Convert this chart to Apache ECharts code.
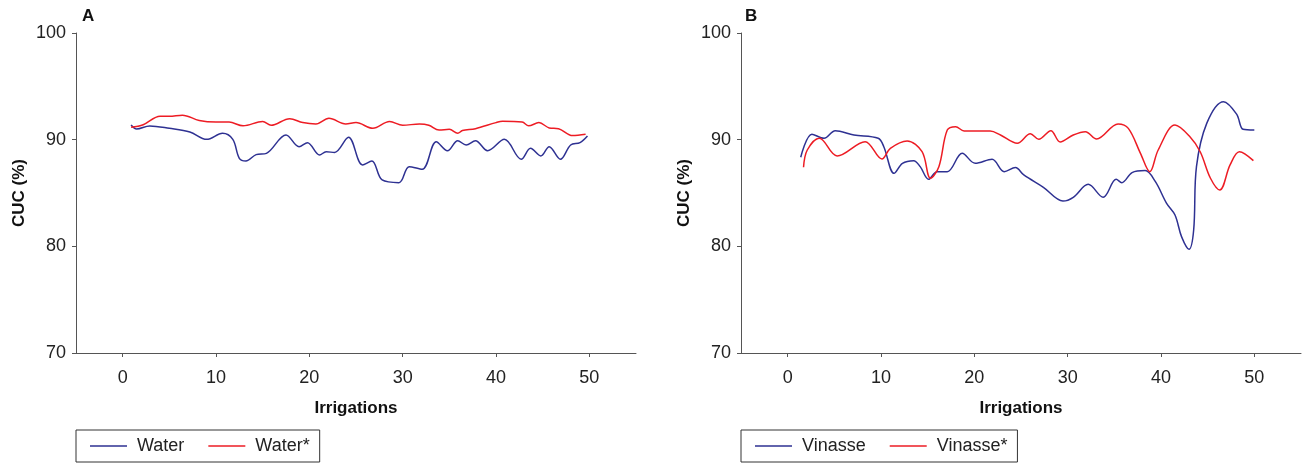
<!DOCTYPE html>
<html>
<head>
<meta charset="utf-8">
<script src="https://cdn.jsdelivr.net/npm/echarts@6/dist/echarts.min.js"></script>
<style>
html,body{margin:0;padding:0;background:#fff;}
#c{width:1304px;height:464px;}
</style>
</head>
<body>
<div id="c"></div>
<script>
// ---- data ----
var xTicks = [0, 10, 20, 30, 40, 50];
var yTicks = [70, 80, 90, 100];

var waterIrr = [0.9, 1.5, 2.9, 5.0, 7.2, 9.0, 10.7, 11.8, 12.5, 13.2, 14.3, 15.4, 17.5, 18.9, 19.8, 21.1, 21.8, 22.7, 24.2, 25.7, 26.7, 27.8, 29.6, 30.7, 32.1, 33.6, 34.8, 35.9, 36.8, 37.8, 39.1, 40.9, 42.7, 43.7, 44.8, 45.7, 46.9, 48.0, 49.0, 49.8];
var waterCUC = [91.37, 91.0, 91.28, 91.06, 90.72, 90.03, 90.6, 90.03, 88.25, 88.0, 88.6, 88.72, 90.44, 89.34, 89.72, 88.56, 88.87, 88.8, 90.22, 87.63, 88.0, 86.22, 85.97, 87.47, 87.22, 89.81, 88.97, 89.9, 89.5, 89.9, 88.97, 90.03, 88.16, 89.19, 88.47, 89.34, 88.16, 89.5, 89.72, 90.34];

var waterStarIrr = [0.9, 2.2, 4.0, 5.0, 6.4, 8.2, 10.0, 11.4, 12.9, 15.0, 15.9, 17.9, 19.3, 20.7, 22.1, 23.9, 25.0, 26.8, 28.6, 30.0, 31.8, 32.8, 33.9, 35.0, 35.9, 36.4, 37.8, 40.0, 40.7, 42.8, 43.5, 44.6, 45.7, 46.7, 48.2, 49.6];
var waterStarCUC = [91.16, 91.4, 92.2, 92.2, 92.3, 91.8, 91.65, 91.65, 91.3, 91.7, 91.35, 91.97, 91.6, 91.47, 92.0, 91.47, 91.6, 91.06, 91.7, 91.35, 91.47, 91.35, 90.9, 90.97, 90.6, 90.85, 91.03, 91.6, 91.72, 91.65, 91.3, 91.6, 91.1, 91.03, 90.38, 90.5];

var vinIrr = [1.4, 2.6, 3.9, 5.1, 7.1, 9.7, 10.3, 11.4, 12.3, 13.5, 14.2, 15.1, 16.0, 17.1, 18.7, 20.1, 21.9, 23.2, 24.4, 25.3, 27.4, 29.5, 30.6, 32.2, 33.8, 35.2, 35.8, 36.9, 38.3, 39.4, 40.6, 41.5, 42.2, 43.0, 43.5, 43.8, 44.9, 46.7, 48.1, 48.8, 50.0];
var vinCUC = [88.35, 90.5, 90.13, 90.84, 90.44, 90.13, 89.34, 86.84, 87.78, 88.03, 87.47, 86.28, 87.0, 87.0, 88.72, 87.78, 88.16, 87.0, 87.38, 86.69, 85.53, 84.25, 84.6, 85.81, 84.6, 86.28, 85.97, 86.91, 87.1, 86.06, 84.03, 82.94, 80.91, 79.72, 81.53, 87.47, 91.53, 93.56, 92.4, 90.97, 90.9];

var vinStarIrr = [1.7, 2.1, 3.4, 5.3, 8.3, 10.1, 11.0, 12.8, 14.4, 15.3, 16.2, 17.1, 18.0, 18.9, 21.7, 22.8, 24.6, 26.0, 26.9, 28.2, 29.2, 30.6, 31.9, 33.1, 35.4, 36.5, 37.8, 38.8, 39.7, 41.5, 43.1, 44.2, 45.3, 46.3, 47.4, 48.4, 49.9];
var vinStarCUC = [87.41, 89.03, 90.13, 88.47, 89.81, 88.19, 89.19, 89.88, 88.87, 86.38, 87.47, 90.9, 91.22, 90.81, 90.81, 90.44, 89.66, 90.55, 90.03, 90.84, 89.78, 90.44, 90.75, 90.06, 91.47, 91.06, 88.72, 87.0, 89.03, 91.37, 90.28, 88.87, 86.38, 85.28, 87.63, 88.87, 88.03];

var BLUE = '#2e3192';
var RED = '#ed1c24';
var FONT = "'Liberation Sans',Arial,sans-serif";
var AXIS = '#555';

function pairs(xs, ys) { return xs.map(function (x, i) { return [x, ys[i]]; }); }

function xAxisCfg(gi) {
  return {
    type: 'value', gridIndex: gi, min: -5, max: 55,
    name: 'Irrigations', nameLocation: 'middle', nameGap: 47,
    nameTextStyle: { fontFamily: FONT, fontWeight: 'bold', fontSize: 17, color: '#111' },
    axisLine: { show: true, onZero: false, lineStyle: { color: AXIS, width: 1 } },
    axisTick: { show: true, length: 4, lineStyle: { color: AXIS }, customValues: xTicks },
    axisLabel: { fontFamily: FONT, fontSize: 18, color: '#222', margin: 16, customValues: xTicks },
    splitLine: { show: false }
  };
}
function yAxisCfg(gi) {
  return {
    type: 'value', gridIndex: gi, min: 70, max: 100, interval: 10,
    name: 'CUC (%)', nameLocation: 'middle', nameGap: 48, nameRotate: 90,
    nameTextStyle: { fontFamily: FONT, fontWeight: 'bold', fontSize: 17, color: '#111' },
    axisLine: { show: true, onZero: false, lineStyle: { color: AXIS, width: 1 } },
    axisTick: { show: true, length: 4, lineStyle: { color: AXIS } },
    axisLabel: { fontFamily: FONT, fontSize: 18, color: '#222', margin: 10 },
    splitLine: { show: false }
  };
}
function lineSeries(name, gi, data, color) {
  return {
    name: name, type: 'line', xAxisIndex: gi, yAxisIndex: gi,
    data: data, smooth: 0.35, symbol: 'none',
    lineStyle: { color: color, width: 1.5 }, itemStyle: { color: color },
    animation: false
  };
}
function legendCfg(left, names) {
  return {
    left: left, top: 430, orient: 'horizontal',
    data: names,
    icon: 'rect',
    borderColor: '#333', borderWidth: 1, borderRadius: 0,
    padding: [7, 10, 7, 14], itemGap: 24, itemWidth: 37, itemHeight: 1.5,
    textStyle: { fontFamily: FONT, fontSize: 18, color: '#222', padding: [0, 0, 0, 5] }
  };
}

var chart = echarts.init(document.getElementById('c'), null, { renderer: 'canvas' });
chart.setOption({
  backgroundColor: '#fff',
  animation: false,
  grid: [
    { left: 76, top: 33, width: 560, height: 320 },
    { left: 741, top: 33, width: 560, height: 320 }
  ],
  xAxis: [xAxisCfg(0), xAxisCfg(1)],
  yAxis: [yAxisCfg(0), yAxisCfg(1)],
  legend: [
    legendCfg(76, ['Water', 'Water*']),
    legendCfg(741, ['Vinasse', 'Vinasse*'])
  ],
  graphic: [
    { type: 'text', left: 82, top: 8, style: { text: 'A', font: "bold 17px " + FONT, fill: '#111' } },
    { type: 'text', left: 745, top: 8, style: { text: 'B', font: "bold 17px " + FONT, fill: '#111' } }
  ],
  series: [
    lineSeries('Water', 0, pairs(waterIrr, waterCUC), BLUE),
    lineSeries('Water*', 0, pairs(waterStarIrr, waterStarCUC), RED),
    lineSeries('Vinasse', 1, pairs(vinIrr, vinCUC), BLUE),
    lineSeries('Vinasse*', 1, pairs(vinStarIrr, vinStarCUC), RED)
  ]
});
</script>
</body>
</html>
